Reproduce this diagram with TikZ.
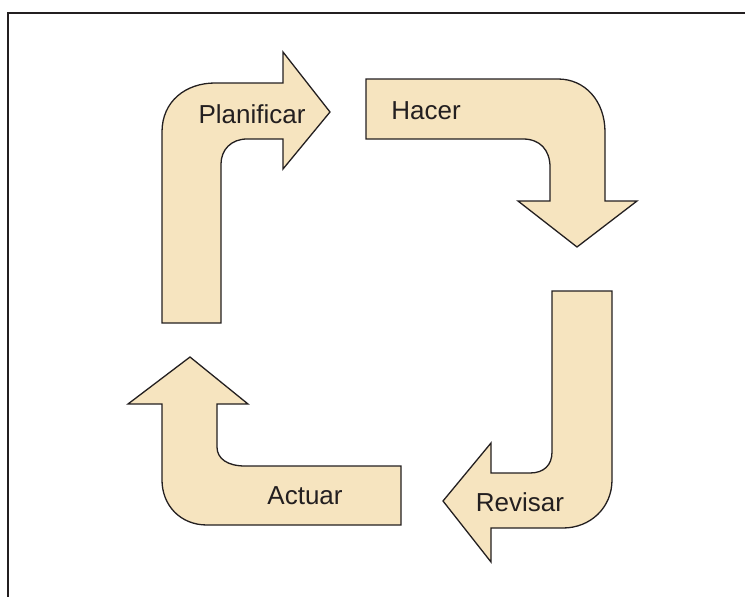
\documentclass[tikz,border=0pt]{standalone}
\usepackage{fontspec}
\setmainfont{Liberation Sans}
\definecolor{arrowfill}{RGB}{246,228,191}
\definecolor{inkc}{RGB}{35,31,32}
\begin{document}
\begin{tikzpicture}[x=1pt,y=-1pt,
  bentarrow/.style={draw=inkc,fill=arrowfill,line width=1.3pt,line join=miter},
  lbl/.style={font=\fontsize{26}{29}\selectfont,text=inkc,inner sep=0pt}]
\useasboundingbox (0,0) rectangle (745,597);
% frame
\draw[inkc,line width=2pt] (8,620) -- (8,13) -- (760,13);
% Planificar
\draw[bentarrow] (162,323) -- (162,132) .. controls (162,101) and (186,83) .. (215,83)
  -- (283,83) -- (283,52) -- (330,112) -- (283,169) -- (283,139) -- (247,139)
  .. controls (231,139) and (221,150) .. (221,164) -- (221,323) -- cycle;
% Hacer
\draw[bentarrow] (366,79) -- (558,79) .. controls (585,79) and (605,101) .. (605,132)
  -- (605,201) -- (637,201) -- (577,247) -- (518,201) -- (550,201) -- (550,167)
  .. controls (550,150) and (540,139) .. (523,139) -- (366,139) -- cycle;
% Revisar
\draw[bentarrow] (552,291) -- (612,291) -- (612,480) .. controls (612,508) and (590,528) .. (563,528)
  -- (491,528) -- (491,562) -- (443,501) -- (491,443) -- (491,473) -- (530,473)
  .. controls (544,473) and (552,465) .. (552,452) -- cycle;
% Actuar
\draw[bentarrow] (190,357) -- (248,404) -- (217,404) -- (217,447)
  .. controls (217,459) and (228,466) .. (245,466) -- (401,466) -- (401,525) -- (207,525)
  .. controls (180,525) and (162,505) .. (162,480) -- (162,404) -- (128,404) -- cycle;
% labels
\node[lbl] (plan) at (252,114) {Planificar};
\node[lbl] (hacer) at (426,111) {Hacer};
\node[lbl] (revisar) at (520,502) {Revisar};
\node[lbl] (actuar) at (305,496) {Actuar};
\end{tikzpicture}
\end{document}
